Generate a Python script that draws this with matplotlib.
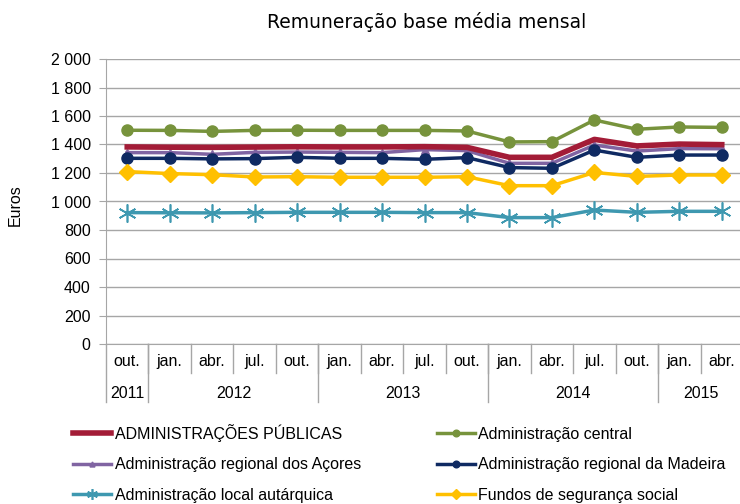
import matplotlib.pyplot as plt
from matplotlib.transforms import blended_transform_factory
from matplotlib.ticker import FuncFormatter

# data
months = ['out.', 'jan.', 'abr.', 'jul.', 'out.', 'jan.', 'abr.', 'jul.', 'out.',
          'jan.', 'abr.', 'jul.', 'out.', 'jan.', 'abr.']
years = ['2011', '2012', '2013', '2014', '2015']
year_spans = [(0, 0), (1, 4), (5, 8), (9, 12), (13, 14)]

adm_publicas = [1383, 1381, 1380, 1382, 1384, 1383, 1383, 1385, 1380,
                1310, 1310, 1436, 1390, 1403, 1399]
adm_central = [1500, 1499, 1492, 1499, 1500, 1499, 1499, 1499, 1495,
               1418, 1420, 1572, 1507, 1523, 1520]
adm_acores = [1343, 1343, 1331, 1345, 1347, 1345, 1343, 1364, 1357,
              1268, 1268, 1396, 1354, 1371, 1370]
adm_madeira = [1303, 1303, 1299, 1301, 1310, 1303, 1303, 1296, 1308,
               1238, 1233, 1361, 1310, 1326, 1326]
adm_local = [922, 921, 920, 922, 924, 924, 924, 922, 922,
             887, 887, 940, 924, 931, 931]
fundos_ss = [1210, 1196, 1188, 1172, 1174, 1170, 1170, 1170, 1174,
             1111, 1111, 1204, 1176, 1186, 1186]

plt.rcParams['font.family'] = ['Liberation Sans', 'DejaVu Sans']

fig = plt.figure(figsize=(7.4, 5.04), dpi=100)
ax = fig.add_axes([106 / 740, 1 - 344 / 504, 637 / 740, 285 / 504])

x = list(range(len(months)))
h_ap, = ax.plot(x, adm_publicas, color='#A31C37', lw=4, label='ADMINISTRAÇÕES PÚBLICAS', zorder=5)
h_ac, = ax.plot(x, adm_central, color='#77933C', lw=2.5, marker='o', ms=8,
                label='Administração central', zorder=4)
h_az, = ax.plot(x, adm_acores, color='#8064A2', lw=2.5, marker='^', ms=6,
                label='Administração regional dos Açores', zorder=4)
h_md, = ax.plot(x, adm_madeira, color='#0F2A62', lw=2.5, marker='o', ms=8,
                label='Administração regional da Madeira', zorder=4)
h_lc, = ax.plot(x, adm_local, color='#3E98B0', lw=2.5, marker=(6, 2, 0), ms=13, mew=1.2,
                label='Administração local autárquica', zorder=4)
h_fs, = ax.plot(x, fundos_ss, color='#FFC000', lw=2.5, marker='D', ms=8,
                label='Fundos de segurança social', zorder=4)

ax.set_xlim(-0.5, 14.5)
ax.set_ylim(0, 2000)
ax.set_yticks(range(0, 2001, 200))
ax.yaxis.set_major_formatter(FuncFormatter(lambda v, p: f'{int(v):,}'.replace(',', ' ')))
ax.tick_params(axis='y', labelsize=11.5, length=5, color='#A6A6A6', pad=6)
ax.set_xticks([])
ax.grid(axis='y', color='#A6A6A6', lw=1)
ax.set_axisbelow(True)
for s in ['top', 'right']:
    ax.spines[s].set_visible(False)
for s in ['left', 'bottom']:
    ax.spines[s].set_color('#A6A6A6')

# two-level category axis
tr = blended_transform_factory(ax.transData, ax.transAxes)
for i, m in enumerate(months):
    ax.text(i, -0.063, m, transform=tr, ha='center', va='center', fontsize=11.5)
for i in range(len(months)):
    ax.plot([i + 0.5, i + 0.5], [0, -0.102], transform=tr, color='#A6A6A6', lw=1, clip_on=False)
ax.plot([-0.5, -0.5], [0, -0.204], transform=tr, color='#A6A6A6', lw=1, clip_on=False)
for y, (a, b) in zip(years, year_spans):
    ax.text((a + b) / 2, -0.172, y, transform=tr, ha='center', va='center', fontsize=11.5)
    ax.plot([b + 0.5, b + 0.5], [0, -0.204], transform=tr, color='#A6A6A6', lw=1, clip_on=False)

fig.text(15 / 740, 1 - 205 / 504, 'Euros', rotation=90, ha='center', va='center', fontsize=11.5)
fig.text(427 / 740, 1 - 22 / 504, 'Remuneração base média mensal', ha='center', va='center',
         fontsize=13.5, family='DejaVu Sans')

handles = [h_ap, h_az, h_lc, h_ac, h_md, h_fs]
fig.legend(handles=handles, labels=[h.get_label() for h in handles], ncol=2,
           loc='upper left', bbox_to_anchor=(73 / 740, 1 - 424 / 504), frameon=False,
           fontsize=11.5, handlelength=2.4, handletextpad=0.2, columnspacing=4.75,
           labelspacing=0.97, borderpad=0, borderaxespad=0, markerscale=0.6)

fig.savefig('out.png', dpi=100)
